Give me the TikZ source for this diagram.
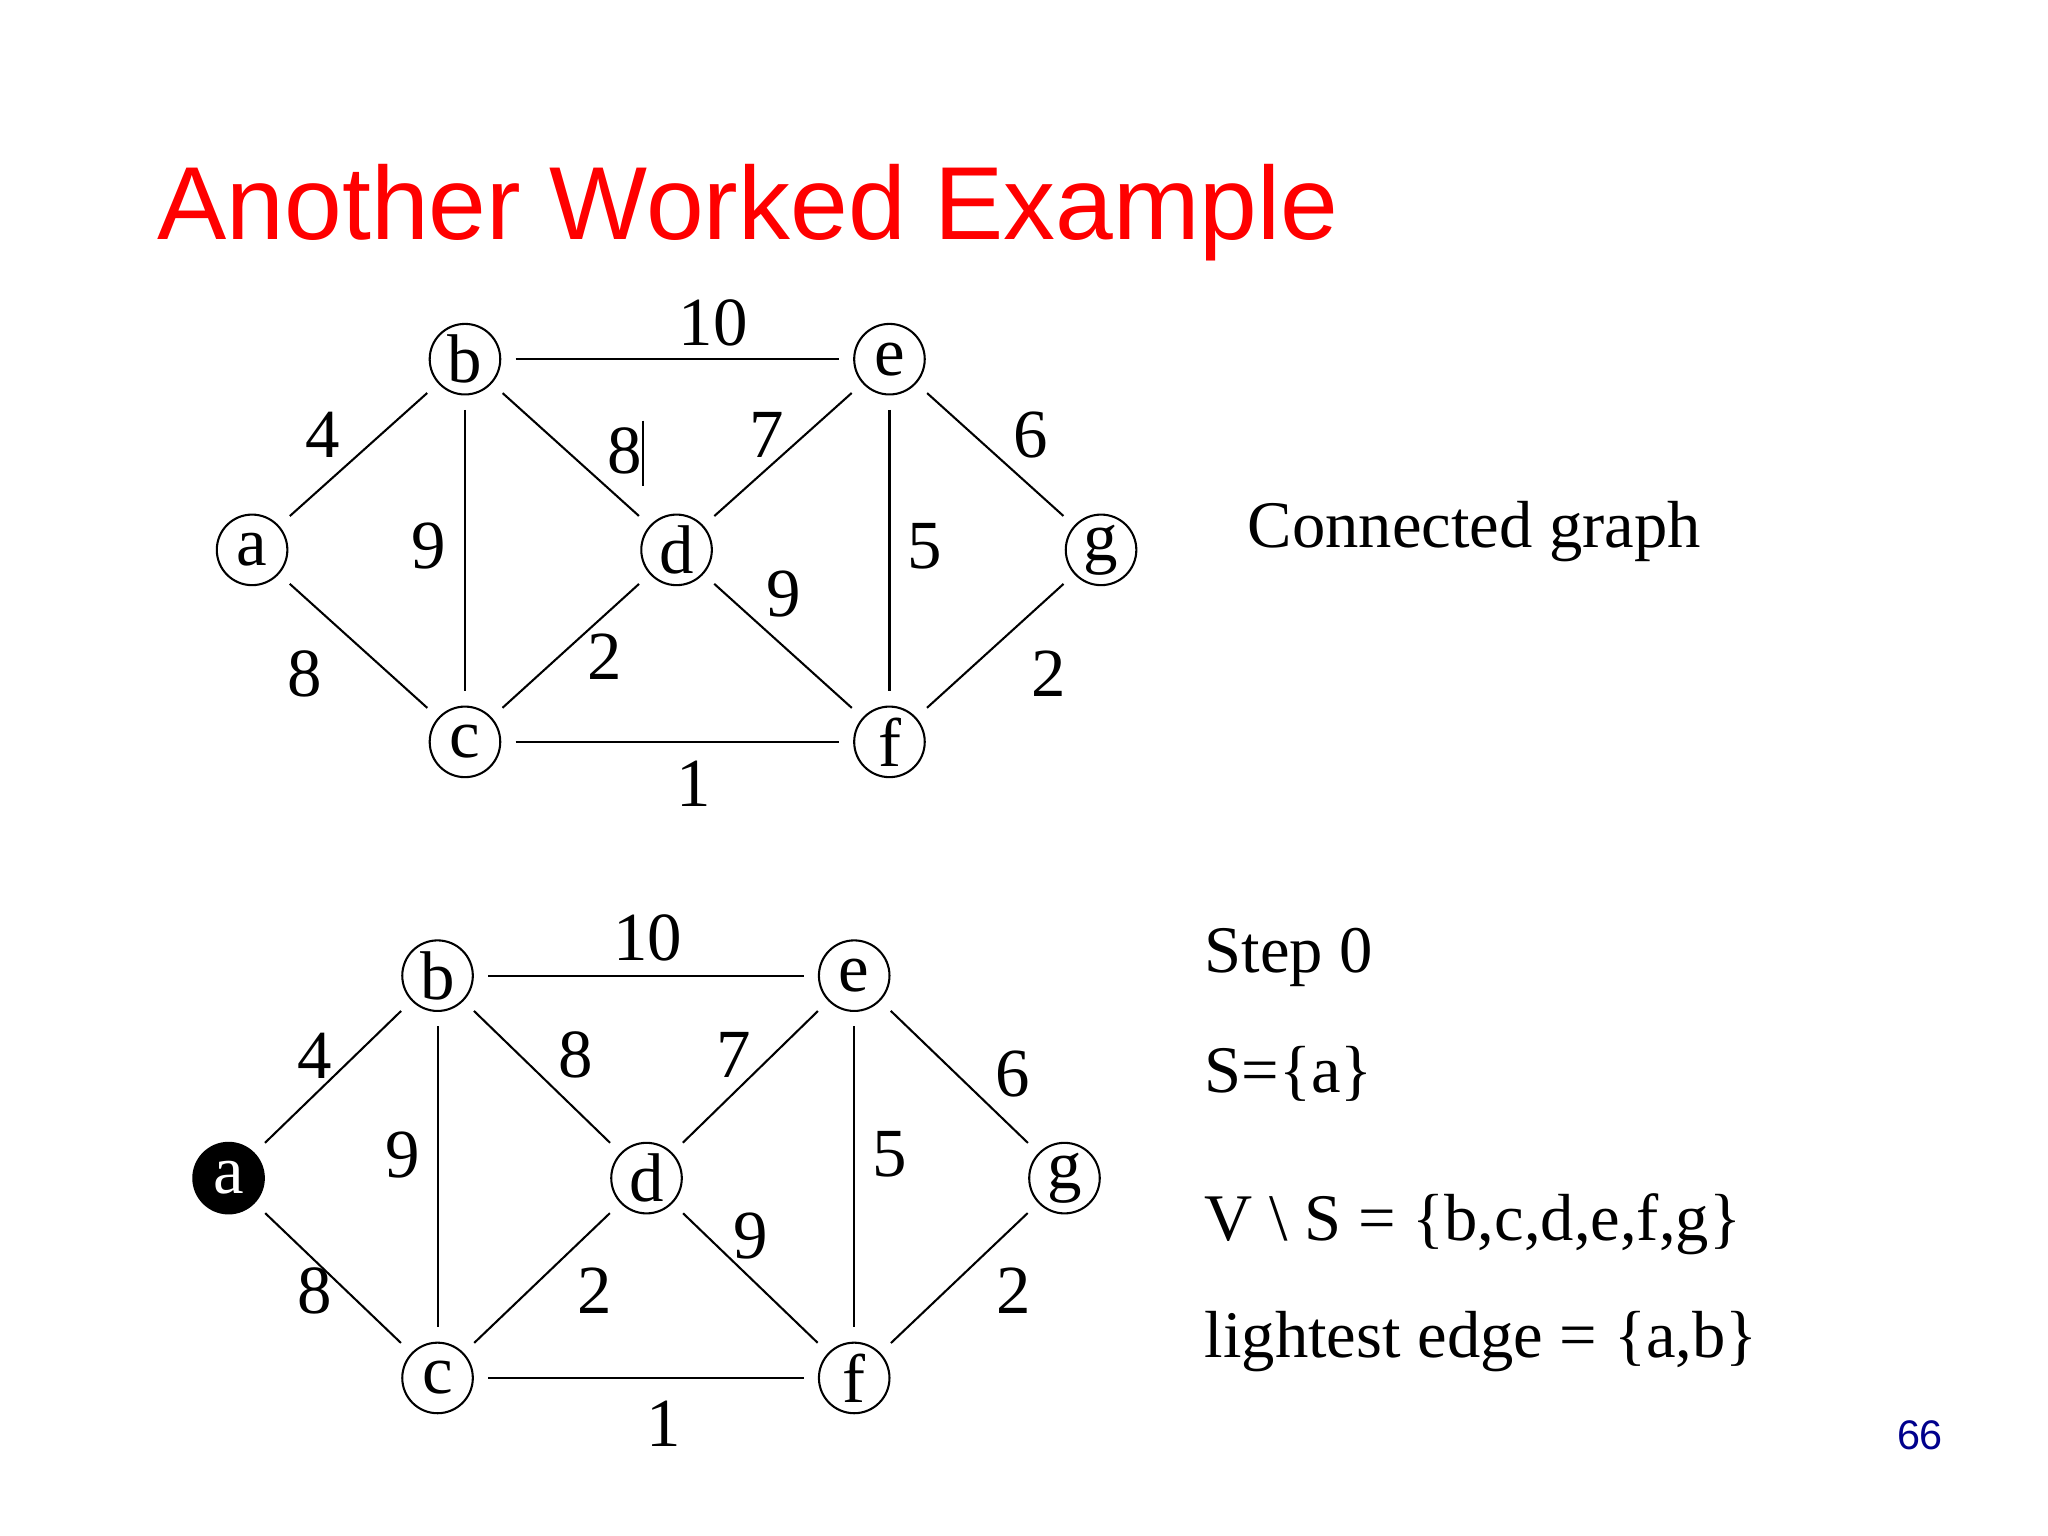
\documentclass[tikz,border=0pt]{standalone}
\usepackage{fontspec}
\setmainfont{Liberation Serif}
\newfontfamily\arialf{Liberation Sans}
\begin{document}
\begin{tikzpicture}[x=0.01cm,y=-0.01cm,
 vtx/.style={circle,draw,line width=0.45pt,minimum size=0.54cm,inner sep=0pt,font=\fontsize{15}{15}\selectfont},
 blk/.style={vtx,fill=black,text=white},
 ed/.style={line width=0.45pt,shorten >=0.11cm,shorten <=0.11cm},
 lb/.style={font=\fontsize{15}{15}\selectfont},
 tx/.style={font=\fontsize{14.5}{15}\selectfont,anchor=west}]
\useasboundingbox (0,0) rectangle (1568,1176);
\node[anchor=base west,text=red,font=\arialf\fontsize{22.6}{25}\selectfont,inner sep=0pt] (title) at (120,183) {Another Worked Example};
% top graph
\node[vtx] (b) at (356,275) {b};
\node[vtx] (e) at (681,275) {e};
\node[vtx] (a) at (193,421) {a};
\node[vtx] (d) at (518,421) {d};
\node[vtx] (g) at (843,421) {g};
\node[vtx] (c) at (356,568) {c};
\node[vtx] (f) at (681,568) {f};
\foreach \u/\v in {a/b,a/c,b/c,b/e,b/d,c/d,c/f,d/e,d/f,e/f,e/g,f/g}{\draw[ed] (\u)--(\v);}
\node[lb] (l1) at (546,247) {10};
\node[lb] (l2) at (247,333) {4};
\node[lb] (l3) at (478,345) {8};
\coordinate (k1) at (492,322); \coordinate (k2) at (492,372);
\draw[line width=0.45pt] (k1)--(k2);
\node[lb] (l4) at (587,333) {7};
\node[lb] (l5) at (789,333) {6};
\node[lb] (l6) at (328,418) {9};
\node[lb] (l7) at (708,418) {5};
\node[lb] (l8) at (600,455) {9};
\node[lb] (l9) at (233,516) {8};
\node[lb] (l10) at (463,503) {2};
\node[lb] (l11) at (803,516) {2};
\node[lb] (l12) at (531,600) {1};
\node[tx] (t1) at (943,407) {Connected graph};
% bottom graph
\node[vtx] (B) at (335,747) {b};
\node[vtx] (E) at (654,747) {e};
\node[blk] (A) at (175,902) {a};
\node[vtx] (D) at (495,902) {d};
\node[vtx] (G) at (815,902) {g};
\node[vtx] (C) at (335,1055) {c};
\node[vtx] (F) at (654,1055) {f};
\foreach \u/\v in {A/B,A/C,B/C,B/E,B/D,C/D,C/F,D/E,D/F,E/F,E/G,F/G}{\draw[ed] (\u)--(\v);}
\node[lb] (m1) at (496,718) {10};
\node[lb] (m2) at (241,808) {4};
\node[lb] (m3) at (441,808) {8};
\node[lb] (m4) at (562,808) {7};
\node[lb] (m5) at (775,822) {6};
\node[lb] (m6) at (308,884) {9};
\node[lb] (m7) at (681,884) {5};
\node[lb] (m8) at (575,946) {9};
\node[lb] (m9) at (241,988) {8};
\node[lb] (m10) at (455,988) {2};
\node[lb] (m11) at (776,988) {2};
\node[lb] (m12) at (508,1090) {1};
\node[tx] (s1) at (910,733) {Step 0};
\node[tx] (s2) at (910,822) {S=\{a\}};
\node[tx] (s3) at (910,937) {V \textbackslash\ S = \{b,c,d,e,f,g\}};
\node[tx] (s4) at (910,1027) {lightest edge = \{a,b\}};
\node[text={rgb,255:red,0;green,0;blue,140},font=\arialf\fontsize{9}{9}\selectfont] (pg) at (1470,1099) {66};
\end{tikzpicture}
\end{document}
